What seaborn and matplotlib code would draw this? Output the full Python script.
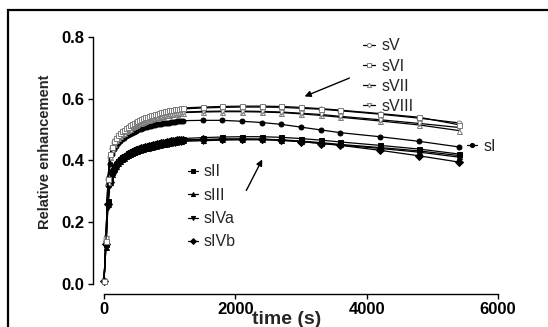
import matplotlib
matplotlib.use("Agg")
import matplotlib.pyplot as plt
from matplotlib.lines import Line2D
from matplotlib.patches import Rectangle, FancyArrowPatch
import seaborn as sns
import pandas as pd

# ---------------- data ----------------
time_s = [0, 30, 60, 90, 120, 150, 180, 210, 240, 270, 300, 330, 360, 390, 420,
          450, 480, 510, 540, 570, 600, 630, 660, 690, 720, 750, 780, 810, 840,
          870, 900, 930, 960, 990, 1020, 1050, 1080, 1110, 1140, 1170, 1200,
          1500, 1800, 2100, 2400, 2700, 3000, 3300, 3600, 4200, 4800, 5400]

sI = [0.01, 0.14, 0.32, 0.39, 0.42, 0.437, 0.448, 0.456, 0.463, 0.469, 0.474,
      0.479, 0.483, 0.487, 0.490, 0.493, 0.496, 0.499, 0.501, 0.503, 0.505,
      0.507, 0.509, 0.511, 0.512, 0.514, 0.515, 0.517, 0.518, 0.519, 0.520,
      0.521, 0.522, 0.523, 0.524, 0.525, 0.526, 0.527, 0.527, 0.528, 0.529,
      0.530, 0.530, 0.527, 0.523, 0.517, 0.508, 0.499, 0.490, 0.477, 0.462, 0.444]

sII = [0.01, 0.13, 0.27, 0.34, 0.362, 0.377, 0.388, 0.397, 0.404, 0.410, 0.415,
       0.419, 0.423, 0.427, 0.430, 0.433, 0.436, 0.438, 0.440, 0.442, 0.444,
       0.446, 0.448, 0.450, 0.451, 0.453, 0.454, 0.456, 0.457, 0.459, 0.460,
       0.461, 0.462, 0.464, 0.465, 0.466, 0.467, 0.468, 0.469, 0.470, 0.471,
       0.474, 0.476, 0.477, 0.477, 0.475, 0.471, 0.466, 0.460, 0.449, 0.437, 0.421]

sIII = [0.01, 0.12, 0.26, 0.33, 0.356, 0.371, 0.382, 0.391, 0.398, 0.404, 0.409,
        0.413, 0.417, 0.421, 0.424, 0.427, 0.430, 0.432, 0.434, 0.436, 0.438,
        0.440, 0.442, 0.444, 0.445, 0.447, 0.448, 0.450, 0.451, 0.453, 0.454,
        0.455, 0.456, 0.458, 0.459, 0.460, 0.461, 0.462, 0.463, 0.464, 0.465,
        0.466, 0.468, 0.469, 0.469, 0.467, 0.463, 0.458, 0.452, 0.442, 0.431, 0.416]

sIVa = [0.01, 0.12, 0.25, 0.32, 0.352, 0.368, 0.379, 0.388, 0.395, 0.401, 0.406,
        0.410, 0.414, 0.418, 0.421, 0.424, 0.427, 0.429, 0.431, 0.433, 0.435,
        0.437, 0.439, 0.441, 0.442, 0.444, 0.445, 0.447, 0.448, 0.450, 0.451,
        0.452, 0.453, 0.455, 0.456, 0.457, 0.458, 0.459, 0.460, 0.461, 0.462,
        0.464, 0.466, 0.467, 0.467, 0.465, 0.461, 0.456, 0.450, 0.439, 0.427, 0.411]

sIVb = [0.01, 0.13, 0.26, 0.33, 0.358, 0.374, 0.385, 0.394, 0.401, 0.407, 0.412,
        0.416, 0.420, 0.424, 0.427, 0.430, 0.433, 0.435, 0.437, 0.439, 0.441,
        0.443, 0.445, 0.447, 0.448, 0.450, 0.451, 0.453, 0.454, 0.456, 0.457,
        0.458, 0.459, 0.461, 0.462, 0.463, 0.464, 0.465, 0.466, 0.467, 0.467,
        0.468, 0.470, 0.470, 0.469, 0.466, 0.461, 0.455, 0.449, 0.433, 0.415, 0.395]

sV = [0.01, 0.15, 0.34, 0.41, 0.44, 0.46, 0.47, 0.478, 0.485, 0.491, 0.497,
      0.502, 0.507, 0.511, 0.515, 0.519, 0.522, 0.525, 0.528, 0.531, 0.534,
      0.537, 0.539, 0.541, 0.543, 0.545, 0.547, 0.549, 0.551, 0.553, 0.554,
      0.556, 0.557, 0.559, 0.560, 0.561, 0.563, 0.564, 0.565, 0.566, 0.567,
      0.570, 0.572, 0.573, 0.573, 0.572, 0.569, 0.566, 0.561, 0.550, 0.537, 0.522]

sVI = [0.01, 0.14, 0.34, 0.42, 0.445, 0.463, 0.473, 0.481, 0.488, 0.494, 0.500,
       0.505, 0.510, 0.514, 0.518, 0.522, 0.525, 0.528, 0.531, 0.534, 0.537,
       0.540, 0.542, 0.544, 0.546, 0.548, 0.550, 0.552, 0.554, 0.556, 0.557,
       0.559, 0.560, 0.562, 0.563, 0.564, 0.566, 0.567, 0.568, 0.569, 0.570,
       0.573, 0.575, 0.576, 0.576, 0.575, 0.572, 0.568, 0.563, 0.552, 0.540, 0.516]

sVII = [0.01, 0.15, 0.33, 0.41, 0.437, 0.455, 0.465, 0.472, 0.479, 0.485, 0.490,
        0.495, 0.499, 0.503, 0.507, 0.511, 0.514, 0.517, 0.520, 0.523, 0.526,
        0.528, 0.530, 0.532, 0.534, 0.536, 0.538, 0.540, 0.541, 0.543, 0.544,
        0.546, 0.547, 0.548, 0.549, 0.550, 0.551, 0.552, 0.553, 0.554, 0.555,
        0.557, 0.558, 0.558, 0.557, 0.555, 0.551, 0.546, 0.540, 0.528, 0.515, 0.497]

sVIII = [0.01, 0.15, 0.34, 0.41, 0.439, 0.457, 0.467, 0.474, 0.481, 0.487, 0.492,
         0.497, 0.501, 0.505, 0.509, 0.513, 0.516, 0.519, 0.522, 0.525, 0.528,
         0.530, 0.532, 0.534, 0.536, 0.538, 0.540, 0.542, 0.543, 0.545, 0.546,
         0.548, 0.549, 0.550, 0.551, 0.552, 0.553, 0.554, 0.555, 0.556, 0.557,
         0.559, 0.560, 0.560, 0.559, 0.557, 0.553, 0.549, 0.543, 0.532, 0.520, 0.507]

series_names = ["sI", "sII", "sIII", "sIVa", "sIVb", "sV", "sVI", "sVII", "sVIII"]
series_values = [sI, sII, sIII, sIVa, sIVb, sV, sVI, sVII, sVIII]

x_ticks = [0, 2000, 4000, 6000]
y_ticks = [0.0, 0.2, 0.4, 0.6, 0.8]
x_label = "time (s)"
y_label = "Relative enhancement"

# ---------------- styles ----------------
GRAY = "#7a7a7a"
styles = {
    "sI":    dict(marker="o", mfc="black", mec="black"),
    "sII":   dict(marker="s", mfc="black", mec="black"),
    "sIII":  dict(marker="^", mfc="black", mec="black"),
    "sIVa":  dict(marker="v", mfc="black", mec="black"),
    "sIVb":  dict(marker="D", mfc="black", mec="black"),
    "sV":    dict(marker="o", mfc="white", mec=GRAY),
    "sVI":   dict(marker="s", mfc="white", mec=GRAY),
    "sVII":  dict(marker="^", mfc="white", mec=GRAY),
    "sVIII": dict(marker="v", mfc="white", mec=GRAY),
}
MS = 3.6
LEG_MS = 3.0

frames = []
for name, vals in zip(series_names, series_values):
    frames.append(pd.DataFrame({"time": time_s, "value": vals, "series": name}))
df = pd.concat(frames, ignore_index=True)

sns.set_theme(style="ticks")
plt.rcParams["font.family"] = ["Liberation Sans", "DejaVu Sans"]

W, H = 548, 327
fig = plt.figure(figsize=(W / 100, H / 100), dpi=100)

# axes geometry (pixel based)
ax_left_px, ax_right_px = 93, 504.6
ax_top_px, ax_bot_px = 30.8, 294
ax = fig.add_axes([ax_left_px / W, 1 - ax_bot_px / H,
                   (ax_right_px - ax_left_px) / W, (ax_bot_px - ax_top_px) / H])
ax.set_facecolor("white")

draw_order = ["sII", "sIII", "sIVa", "sIVb", "sI", "sVII", "sVIII", "sV", "sVI"]
for name in draw_order:
    sub = df[df["series"] == name]
    st = styles[name]
    sns.lineplot(data=sub, x="time", y="value", ax=ax, color="black",
                 linewidth=0.9, marker=st["marker"], markersize=MS,
                 markerfacecolor=st["mfc"], markeredgecolor=st["mec"],
                 markeredgewidth=0.7, legend=False, estimator=None, sort=False)

ax.set_xlim(-167.5, 6100)
ax.set_ylim(-0.0324, 0.82)
ax.set_xticks(x_ticks)
ax.set_yticks(y_ticks)
ax.set_xticklabels([str(t) for t in x_ticks], fontsize=12, fontweight="bold")
ax.set_yticklabels([f"{t:.1f}" for t in y_ticks], fontsize=12, fontweight="bold")
ax.tick_params(axis="both", direction="out", length=3.5, width=1.0,
               colors="black", pad=2.5)
for side in ("top", "right"):
    ax.spines[side].set_visible(False)
for side in ("left", "bottom"):
    ax.spines[side].set_linewidth(1.0)
    ax.spines[side].set_color("black")
ax.spines["left"].set_bounds(0, 0.8)
ax.spines["bottom"].set_bounds(0, 6000)

ax.set_xlabel(x_label, fontsize=14, fontweight="bold")
ax.set_ylabel(y_label, fontsize=10.5, fontweight="bold")
ax.xaxis.set_label_coords((287 - ax_left_px) / (ax_right_px - ax_left_px),
                          (ax_bot_px - 311) / (ax_bot_px - ax_top_px))
ax.yaxis.set_label_coords((52 - ax_left_px) / (ax_right_px - ax_left_px),
                          (ax_bot_px - 152) / (ax_bot_px - ax_top_px))


def handle(name):
    st = styles[name]
    return Line2D([], [], color="black", linewidth=0.9, marker=st["marker"],
                  markersize=LEG_MS, markerfacecolor=st["mfc"],
                  markeredgecolor=st["mec"], markeredgewidth=0.7)


upper = ["sV", "sVI", "sVII", "sVIII"]
lower = ["sII", "sIII", "sIVa", "sIVb"]
LFS = 11.5

fig.legend(handles=[handle(n) for n in upper], labels=upper,
           loc="upper left", bbox_to_anchor=(363 / W, 1 - 38.5 / H),
           bbox_transform=fig.transFigure, frameon=False, fontsize=LFS,
           handlelength=0.75, handletextpad=0.4, labelspacing=0.32,
           borderpad=0, borderaxespad=0)
fig.legend(handles=[handle(n) for n in lower], labels=lower,
           loc="upper left", bbox_to_anchor=(188 / W, 1 - 164.5 / H),
           bbox_transform=fig.transFigure, frameon=False, fontsize=LFS,
           handlelength=0.65, handletextpad=0.35, labelspacing=0.52,
           borderpad=0, borderaxespad=0)
fig.legend(handles=[handle("sI")], labels=["sI"],
           loc="upper left", bbox_to_anchor=(467 / W, 1 - 139 / H),
           bbox_transform=fig.transFigure, frameon=False, fontsize=LFS,
           handlelength=0.65, handletextpad=0.4,
           borderpad=0, borderaxespad=0)

# arrows
fig.add_artist(FancyArrowPatch(
    (352 / W, 1 - 77 / H), (302 / W, 1 - 97.5 / H), transform=fig.transFigure,
    arrowstyle="-|>", mutation_scale=9, color="black", linewidth=1.0))
fig.add_artist(FancyArrowPatch(
    (245 / W, 1 - 193 / H), (263.5 / W, 1 - 157 / H), transform=fig.transFigure,
    arrowstyle="-|>", mutation_scale=9, color="black", linewidth=1.0))

# outer frame (clipped at right and bottom like the reference)
fig.add_artist(Rectangle((8 / W, -0.1), 1.2, 1 - 10 / H + 0.1,
                         transform=fig.transFigure, fill=False,
                         edgecolor="black", linewidth=1.6))

fig.savefig("out.png", dpi=100, facecolor="white")
